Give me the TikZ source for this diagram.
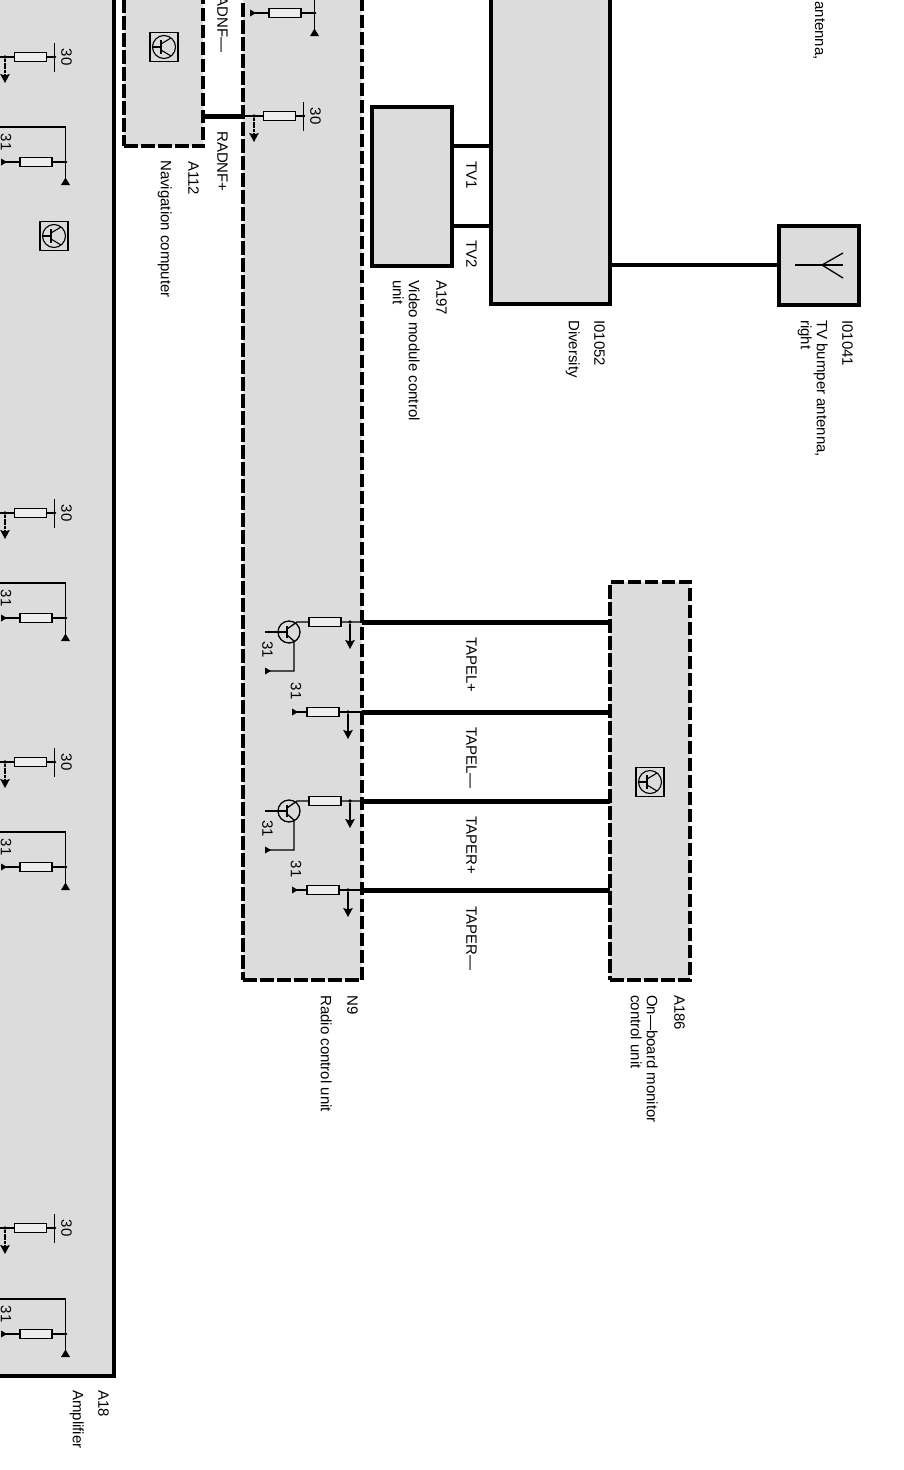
\documentclass[tikz,border=0pt]{standalone}
\usepackage{fontspec}
\setmainfont{Liberation Sans}
\usetikzlibrary{arrows.meta}
\usetikzlibrary{calc}
\definecolor{unitgray}{HTML}{DCDCDC}
\tikzset{
	unit/.style={draw,fill=unitgray,rectangle,line width=3.9pt,inner sep=0pt,outer sep=0pt},
	dashunit/.style={unit,dash pattern=on 13.5pt off 3.5pt},
	wire/.style={line width=4pt},
	buswire/.style={line width=5pt},
	lead/.style={line width=1.3pt},
	resistor/.style={draw,fill=unitgray!50,rectangle,line width=1.2pt,minimum width=32pt,minimum height=8.5pt,inner sep=0pt,outer sep=0pt},
	joint/.style={fill,circle,minimum size=3.6pt,inner sep=0pt,outer sep=0pt},
	drop/.style={lead,-{Stealth[length=9pt,width=9.5pt,inset=1.5pt]}},
	txt/.style={rotate=-90,inner sep=0pt,align=left,font=\fontsize{15}{16}\selectfont},
	lbl/.style={txt,anchor=north west},
	endlbl/.style={txt,anchor=north east},
	pinlbl/.style={txt,anchor=center}
}
\newcommand{\iconbox}[3]% name, x, y
{\node[draw,line width=1.1pt,rectangle,minimum width=28pt,minimum height=29pt,inner sep=0pt] (#1) at (#2,#3) {};
	\draw[line width=1.1pt] (#1.center) circle (11.5pt);
	\draw[line width=1.1pt] ($(#1.center)+(-11.5,0)$) -- ($(#1.center)+(-3,0)$);
	\draw[line width=1.1pt] ($(#1.center)+(-3,-7)$) -- ($(#1.center)+(-3,7)$);
	\draw[line width=1.1pt] ($(#1.center)+(-3,-3)$) -- ($(#1.center)+(7,-9)$);
	\draw[line width=1.1pt] ($(#1.center)+(-3,3)$) -- ($(#1.center)+(7,9)$);
}
\newcommand{\pinend}[2]% x, y: small end pin, apex towards the wire
{\fill (#1-3,#2-3.5) -- (#1-3,#2+3.5) -- (#1+3,#2) -- cycle;
}
\newcommand{\supplycell}[3]% name, x, y
{\begin{scope}[shift={(#2,#3)}]
	\node[resistor] (#1r) at (30.5,0) {};
	\node[joint] (#1a) at (5,0) {};
	\node[joint] (#1b) at (54.5,0) {};
	\coordinate (#1c) at (-6,0);
	\coordinate (#1d) at (5,26);
	\coordinate (#1e) at (54.5,-14.5);
	\coordinate (#1f) at (54.5,14.5);
	\draw[lead] (#1c) -- (#1r) -- (#1b);
	\draw[lead] (#1e) -- (#1f);
	\draw[drop,dash pattern=on 3pt off 0.8pt] (#1a) -- (#1d);
	\node[pinlbl] (#1v) at (66.5,0) {30};
	\end{scope}
}
\newcommand{\returncell}[3]% name, x, y
{\begin{scope}[shift={(#2,#3)}]
	\node[resistor] (#1r) at (36,0) {};
	\node[joint] (#1a) at (65.5,0) {};
	\coordinate (#1t) at (4,0);
	\coordinate (#1u) at (65.5,-35);
	\coordinate (#1s) at (0,-35);
	\coordinate (#1g) at (65.5,16);
	\draw[lead] (#1t) -- (#1r) -- (#1a);
	\draw[lead] (#1s) -- (#1u) -- (#1a) -- (#1g);
	\fill (65.5,15.5) -- (61,23) -- (70,23) -- cycle;
	\pinend{4}{0}
	\end{scope}
}
\newcommand{\tapecell}[2]% name, y
{\begin{scope}[shift={(0,#2)}]
	\node[resistor] (#1r) at (323,0) {};
	\node[joint] (#1a) at (348,0) {};
	\coordinate (#1c) at (362,0);
	\coordinate (#1t) at (295,0);
	\coordinate (#1d) at (348,27);
	\draw[lead] (#1c) -- (#1r) -- (#1t);
	\draw[drop] (#1a) -- (#1d);
	\pinend{295}{0}
	\node[pinlbl] (#1v) at (296,-21) {31};
	\end{scope}
}
\newcommand{\tapetrans}[2]% name, y
{\begin{scope}[shift={(0,#2)}]
	\node[resistor] (#1r) at (325,0) {};
	\node[joint] (#1a) at (350,0) {};
	\coordinate (#1c) at (362,0);
	\coordinate (#1d) at (350,27);
	\coordinate (#1k) at (297,0);
	\coordinate (#1b) at (265,10);
	\coordinate (#1m) at (287,10);
	\coordinate (#1e) at (294,19);
	\coordinate (#1f) at (294,49);
	\coordinate (#1t) at (268,49);
	\draw[lead] (#1c) -- (#1r) -- (#1k) -- (287,7);
	\draw[drop] (#1a) -- (#1d);
	\draw[lead] (289,10) circle (11pt);
	\draw[lead] (#1b) -- (#1m);
	\draw[line width=2pt] (287,4) -- (287,16);
	\draw[lead] (287,13) -- (#1e) -- (#1f) -- (#1t);
	\pinend{268}{49}
	\node[pinlbl] (#1v) at (267.5,27.5) {31};
	\end{scope}
}

\begin{document}
\begin{tikzpicture}[x=1pt,y=-1pt]
	\useasboundingbox (0,0) rectangle (903,1470);
	\clip (0,0) rectangle (903,1470);
	% units
	\node[unit,minimum width=124pt,minimum height=1386pt] (amplifier) at (52,683) {};
	\node[dashunit,minimum width=79pt,minimum height=156pt] (navi) at (163.5,68) {};
	\node[dashunit,minimum width=119pt,minimum height=990pt] (radio) at (302.5,485) {};
	\node[unit,minimum width=80pt,minimum height=159pt] (video) at (412,186.5) {};
	\node[unit,minimum width=119pt,minimum height=314pt] (diversity) at (550.5,147) {};
	\node[unit,minimum width=80pt,minimum height=79pt] (bumper) at (819,265.5) {};
	\node[dashunit,minimum width=80pt,minimum height=398pt] (monitor) at (650,781) {};
	% wires
	\draw[buswire] (navi.east |- 0,116) -- (radio.west |- 0,116);
	\draw[wire] (video.east |- 0,146) -- (diversity.west |- 0,146);
	\draw[wire] (video.east |- 0,226) -- (diversity.west |- 0,226);
	\draw[wire] (diversity.east |- 0,265) -- (bumper.west |- 0,265);
	\draw[buswire] (radio.east |- 0,622) -- (monitor.west |- 0,622);
	\draw[buswire] (radio.east |- 0,712) -- (monitor.west |- 0,712);
	\draw[buswire] (radio.east |- 0,801) -- (monitor.west |- 0,801);
	\draw[buswire] (radio.east |- 0,890) -- (monitor.west |- 0,890);
	% amplifier cells
	\supplycell{sa}{0}{57}
	\returncell{ra}{0}{162}
	\node[pinlbl] (ral) at (6,142) {31};
	\supplycell{sb}{0}{513}
	\returncell{rb}{0}{618}
	\node[pinlbl] (rbl) at (6,598) {31};
	\supplycell{sc}{0}{762}
	\returncell{rc}{0}{867}
	\node[pinlbl] (rcl) at (6,847) {31};
	\supplycell{sd}{0}{1228}
	\returncell{rd}{0}{1334}
	\node[pinlbl] (rdl) at (6,1314) {31};
	% radio cells
	\returncell{re}{249}{13}
	\supplycell{se}{249}{116}
	\tapetrans{tla}{622}
	\tapecell{tlb}{712}
	\tapetrans{tra}{801}
	\tapecell{trb}{890}
	% icons
	\iconbox{iconamp}{54}{236}
	\iconbox{iconnav}{164}{47}
	\iconbox{iconmon}{650}{782}
	% antenna
	\coordinate (anta) at (795,265);
	\coordinate (antb) at (843,265);
	\coordinate (antc) at (822,265);
	\coordinate (antd) at (843,253);
	\coordinate (ante) at (843,278);
	\draw[lead] (anta) -- (antb);
	\draw[lead] (antd) -- (antc) -- (ante);
	% wire names
	\node[endlbl] (radm) at (228,53) {RADNF—};
	\node[lbl] (radp) at (228,131) {RADNF+};
	\node[lbl] (tva) at (477,161) {TV1};
	\node[lbl] (tvb) at (477,240) {TV2};
	\node[lbl] (tlp) at (477,637) {TAPEL+};
	\node[lbl] (tlm) at (477,727) {TAPEL—};
	\node[lbl] (trp) at (477,816) {TAPER+};
	\node[lbl] (trm) at (477,906) {TAPER—};
	% unit names
	\node[lbl] (ampc) at (109,1390) {A18};
	\node[lbl] (ampn) at (84,1390) {Amplifier};
	\node[lbl] (navc) at (199,161) {A112};
	\node[lbl] (navn) at (172,160) {Navigation computer};
	\node[lbl] (vidc) at (447,280) {A197};
	\node[lbl] (vidn) at (420,280) {Video module control\\unit};
	\node[lbl] (divc) at (605,320) {I01052};
	\node[lbl] (divn) at (580,320) {Diversity};
	\node[lbl] (bumc) at (853,320) {I01041};
	\node[lbl] (bumn) at (828,320) {TV bumper antenna,\\right};
	\node[endlbl] (topn) at (825,60) {antenna,};
	\node[lbl] (radc) at (358,995) {N9};
	\node[lbl] (radn) at (332,995) {Radio control unit};
	\node[lbl] (monc) at (685,995) {A186};
	\node[lbl] (monn) at (658,995) {On—board monitor\\control unit};
\end{tikzpicture}
\end{document}
